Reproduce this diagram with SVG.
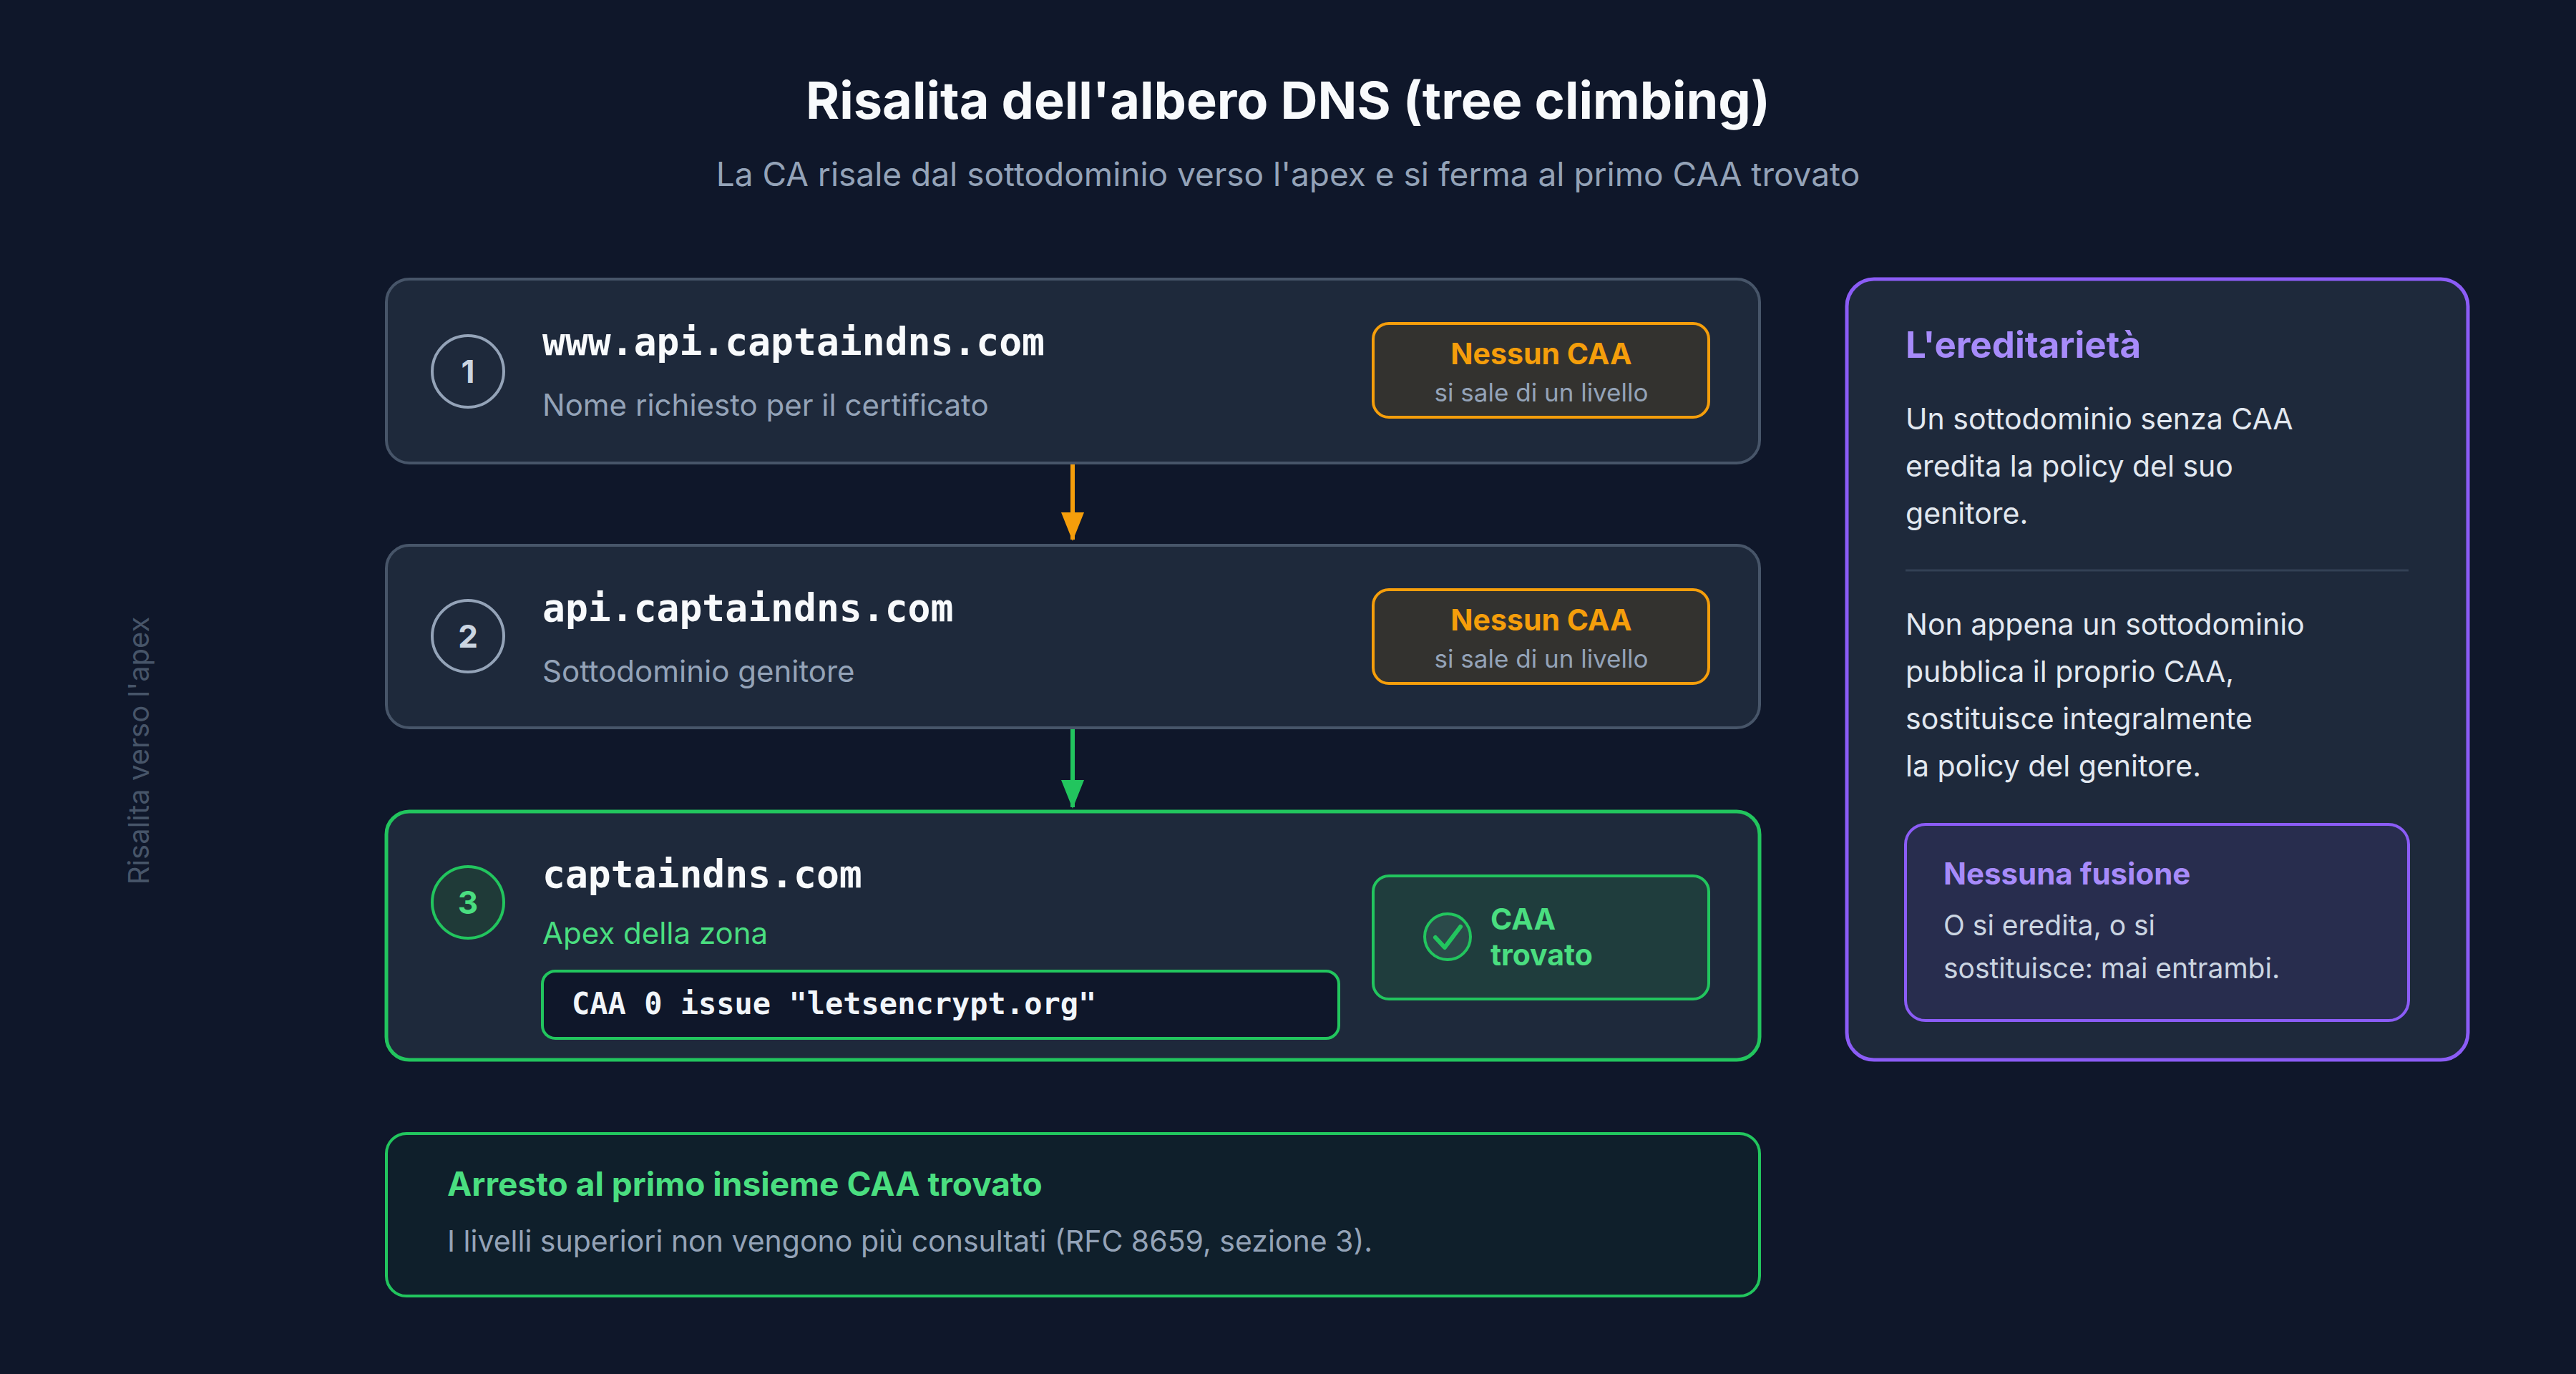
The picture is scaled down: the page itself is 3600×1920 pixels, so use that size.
<svg xmlns="http://www.w3.org/2000/svg" width="3600" height="1920" viewBox="0 0 3600 1920">
<defs>
<style>
.s{font-family:Inter,"Noto Sans","Liberation Sans",sans-serif}
.m{font-family:"DejaVu Sans Mono","Liberation Mono",monospace;font-weight:bold}
.box{fill:#1e293b;stroke:#475569;stroke-width:4}
.badge{fill:#33322f;stroke:#f59e0b;stroke-width:4}
.dom{fill:#f8fafc;font-size:53px}
.sub{fill:#94a3b8;font-size:42px}
.num{fill:#cbd5e1;font-size:44px;font-weight:bold}
</style>
<marker id="ao" markerWidth="40" markerHeight="32" refX="38" refY="16" orient="auto" markerUnits="userSpaceOnUse" viewBox="0 0 40 32"><path d="M0,0 L40,16 L0,32 Z" fill="#f59e0b"/></marker>
<marker id="ag" markerWidth="40" markerHeight="32" refX="38" refY="16" orient="auto" markerUnits="userSpaceOnUse" viewBox="0 0 40 32"><path d="M0,0 L40,16 L0,32 Z" fill="#22c55e"/></marker>
</defs>
<rect width="3600" height="1920" fill="#0f172a"/>
<text class="s" x="1800" y="166" text-anchor="middle" font-size="72" font-weight="bold" fill="#f8fafc">Risalita dell'albero DNS (tree climbing)</text>
<text class="s" x="1800" y="260" text-anchor="middle" font-size="46" fill="#94a3b8">La CA risale dal sottodominio verso l'apex e si ferma al primo CAA trovato</text>
<text class="s" transform="translate(208,1049) rotate(-90)" text-anchor="middle" font-size="40" fill="#475569">Risalita verso l'apex</text>

<g id="connectors">
<line x1="1499" y1="649" x2="1499" y2="754" stroke="#f59e0b" stroke-width="6" marker-end="url(#ao)"/>
<line x1="1499" y1="1019" x2="1499" y2="1128" stroke="#22c55e" stroke-width="6" marker-end="url(#ag)"/>
</g>
<g id="n1">
<rect class="box" x="540" y="390" width="1919" height="257" rx="32"/>
<circle cx="654" cy="519" r="50" fill="#1e293b" stroke="#94a3b8" stroke-width="4"/>
<text class="s num" x="654" y="535" text-anchor="middle">1</text>
<text class="m dom" x="758" y="496">www.api.captaindns.com</text>
<text class="s sub" x="758" y="581">Nome richiesto per il certificato</text>
<rect class="badge" x="1919" y="452" width="469" height="131" rx="22"/>
<text class="s" x="2154" y="509" text-anchor="middle" font-size="41" font-weight="bold" fill="#f59e0b">Nessun CAA</text>
<text class="s" x="2154" y="561" text-anchor="middle" font-size="35" fill="#94a3b8">si sale di un livello</text>
</g>
<g id="n2">
<rect class="box" x="540" y="762" width="1919" height="255" rx="32"/>
<circle cx="654" cy="889" r="50" fill="#1e293b" stroke="#94a3b8" stroke-width="4"/>
<text class="s num" x="654" y="905" text-anchor="middle">2</text>
<text class="m dom" x="758" y="868">api.captaindns.com</text>
<text class="s sub" x="758" y="953">Sottodominio genitore</text>
<rect class="badge" x="1919" y="824" width="469" height="131" rx="22"/>
<text class="s" x="2154" y="881" text-anchor="middle" font-size="41" font-weight="bold" fill="#f59e0b">Nessun CAA</text>
<text class="s" x="2154" y="933" text-anchor="middle" font-size="35" fill="#94a3b8">si sale di un livello</text>
</g>
<g id="n3">
<rect x="540" y="1134" width="1919" height="347" rx="32" fill="#1e293b" stroke="#22c55e" stroke-width="5"/>
<circle cx="654" cy="1261" r="50" fill="#1f3a38" stroke="#22c55e" stroke-width="4"/>
<text class="s" x="654" y="1277" text-anchor="middle" font-size="44" font-weight="bold" fill="#4ade80">3</text>
<text class="m dom" x="758" y="1240">captaindns.com</text>
<text class="s" x="758" y="1319" font-size="42" fill="#4ade80">Apex della zona</text>
<rect x="758" y="1357" width="1113" height="94" rx="18" fill="#0f172a" stroke="#22c55e" stroke-width="4"/>
<text class="m" x="799" y="1417" font-size="42" fill="#f1f5f9">CAA 0 issue "letsencrypt.org"</text>
<rect x="1919" y="1224" width="469" height="172" rx="22" fill="#1f3d3d" stroke="#22c55e" stroke-width="4"/>
<circle cx="2023" cy="1309" r="32" fill="#2b4a4a" stroke="#22c55e" stroke-width="4"/>
<path d="M2006,1310 L2019,1324 L2041,1295" fill="none" stroke="#22c55e" stroke-width="6" stroke-linecap="round" stroke-linejoin="round"/>
<text class="s" x="2083" y="1299" font-size="41" font-weight="bold" fill="#4ade80">CAA</text>
<text class="s" x="2083" y="1349" font-size="41" font-weight="bold" fill="#4ade80">trovato</text>
</g>
<g id="stop">
<rect x="540" y="1584" width="1919" height="227" rx="28" fill="#0f1f2b" stroke="#22c55e" stroke-width="4"/>
<text class="s" x="625" y="1671" font-size="46" font-weight="bold" fill="#4ade80">Arresto al primo insieme CAA trovato</text>
<text class="s" x="625" y="1749" font-size="41" fill="#94a3b8">I livelli superiori non vengono più consultati (RFC 8659, sezione 3).</text>
</g>
<g id="panel">
<rect x="2581" y="390" width="868" height="1091" rx="38" fill="#1e293b" stroke="#8b5cf6" stroke-width="5"/>
<text class="s" x="2663" y="500" font-size="51" font-weight="bold" fill="#a78bfa">L'ereditarietà</text>
<g class="s" font-size="41" fill="#e2e8f0">
<text x="2663" y="600">Un sottodominio senza CAA</text>
<text x="2663" y="666">eredita la policy del suo</text>
<text x="2663" y="732">genitore.</text>
<text x="2663" y="887">Non appena un sottodominio</text>
<text x="2663" y="953">pubblica il proprio CAA,</text>
<text x="2663" y="1019">sostituisce integralmente</text>
<text x="2663" y="1085">la policy del genitore.</text>
</g>
<line x1="2663" y1="797" x2="3366" y2="797" stroke="#334155" stroke-width="3"/>
<rect x="2663" y="1152" width="703" height="274" rx="28" fill="#282d4e" stroke="#8b5cf6" stroke-width="4"/>
<text class="s" x="2716" y="1236" font-size="42" font-weight="bold" fill="#a78bfa">Nessuna fusione</text>
<text class="s" x="2716" y="1307" font-size="39" fill="#cbd5e1">O si eredita, o si</text>
<text class="s" x="2716" y="1367" font-size="39" fill="#cbd5e1">sostituisce: mai entrambi.</text>
</g>
</svg>
